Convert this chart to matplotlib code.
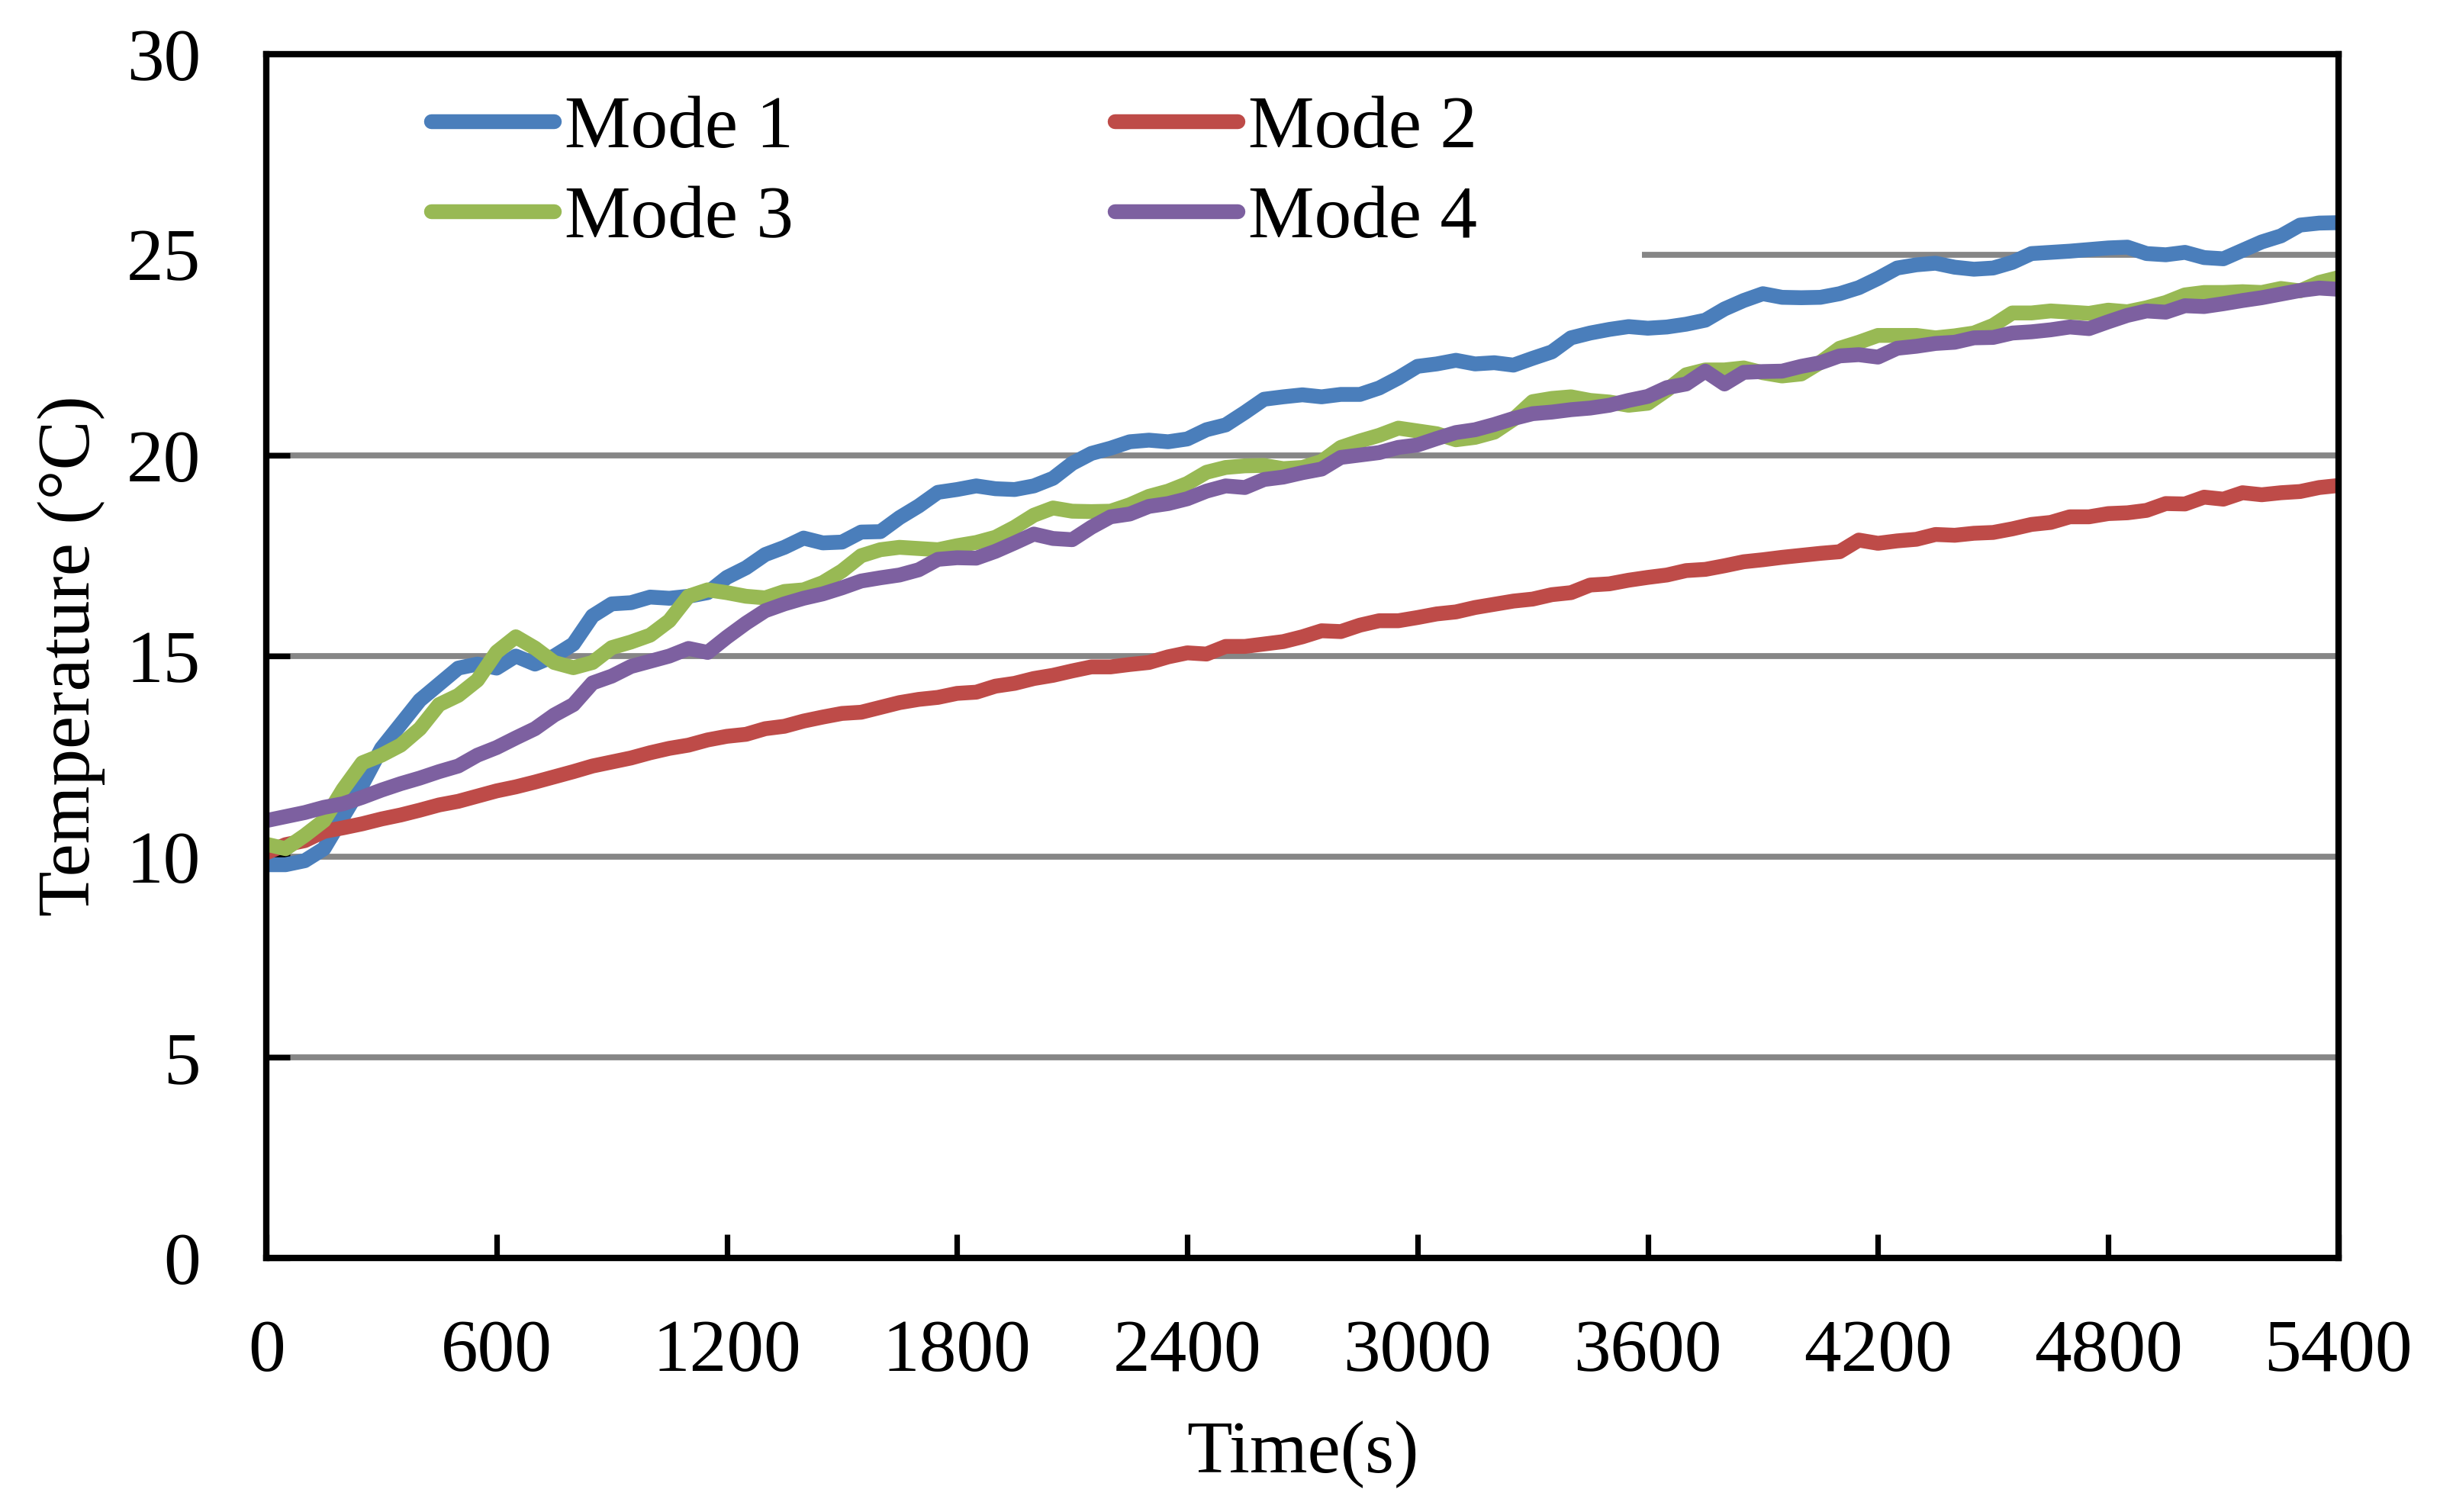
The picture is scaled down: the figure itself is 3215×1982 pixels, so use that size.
import numpy as np
import matplotlib

matplotlib.use("Agg")
import matplotlib.pyplot as plt
from matplotlib.patches import Rectangle

plt.rcParams["font.family"] = ["Liberation Serif", "DejaVu Serif"]

# time axis (s), one reading every 50 s
time_s = list(range(0, 5401, 50))

mode1 = [9.8, 9.8, 9.9, 10.2, 11.0, 11.8, 12.7, 13.3, 13.9, 14.3, 14.7, 14.8, 14.7, 15.0, 14.8, 15.0, 15.3, 16.0, 16.3,
         16.33, 16.47, 16.44, 16.49, 16.58, 16.96, 17.2, 17.53, 17.71, 17.94, 17.82, 17.84, 18.09, 18.1, 18.45, 18.74, 19.08, 19.15,
         19.24, 19.17, 19.15, 19.24, 19.43, 19.8, 20.05, 20.18, 20.34, 20.38, 20.34, 20.41, 20.64, 20.76, 21.07, 21.4, 21.46, 21.51,
         21.46, 21.52, 21.52, 21.68, 21.93, 22.22, 22.28, 22.37, 22.28, 22.31, 22.25, 22.42, 22.58, 22.93, 23.05, 23.14, 23.21, 23.17,
         23.2, 23.27, 23.37, 23.65, 23.86, 24.03, 23.94, 23.93, 23.94, 24.03, 24.18, 24.41, 24.67, 24.75, 24.79, 24.69, 24.64, 24.67,
         24.81, 25.03, 25.06, 25.09, 25.13, 25.17, 25.19, 25.03, 25.0, 25.06, 24.93, 24.9, 25.11, 25.32, 25.47, 25.74, 25.79, 25.8]

mode2 = [10.1, 10.3, 10.4, 10.63, 10.72, 10.82, 10.94, 11.04, 11.16, 11.29, 11.38, 11.51, 11.64, 11.74, 11.86, 11.99, 12.12, 12.26, 12.36,
         12.46, 12.59, 12.7, 12.78, 12.91, 13.0, 13.05, 13.19, 13.25, 13.38, 13.48, 13.57, 13.6, 13.72, 13.84, 13.92, 13.97, 14.07,
         14.1, 14.25, 14.32, 14.44, 14.52, 14.63, 14.73, 14.73, 14.79, 14.84, 14.98, 15.08, 15.05, 15.24, 15.24, 15.3, 15.36, 15.48,
         15.63, 15.61, 15.77, 15.88, 15.88, 15.96, 16.05, 16.1, 16.21, 16.29, 16.37, 16.42, 16.53, 16.58, 16.77, 16.8, 16.89, 16.96,
         17.02, 17.13, 17.16, 17.25, 17.35, 17.4, 17.46, 17.51, 17.56, 17.6, 17.89, 17.81, 17.87, 17.91, 18.03, 18.01, 18.06, 18.08,
         18.17, 18.28, 18.33, 18.47, 18.47, 18.55, 18.57, 18.63, 18.8, 18.79, 18.96, 18.91, 19.07, 19.02, 19.07, 19.1, 19.2, 19.25]

mode3 = [10.31, 10.2, 10.53, 10.9, 11.68, 12.34, 12.53, 12.78, 13.19, 13.79, 14.02, 14.4, 15.1, 15.48, 15.2, 14.84, 14.71, 14.84, 15.21,
         15.35, 15.52, 15.88, 16.49, 16.65, 16.58, 16.49, 16.45, 16.61, 16.65, 16.83, 17.12, 17.5, 17.65, 17.71, 17.68, 17.65, 17.75,
         17.83, 17.96, 18.21, 18.51, 18.69, 18.61, 18.6, 18.61, 18.77, 18.98, 19.11, 19.3, 19.58, 19.7, 19.74, 19.75, 19.67, 19.7,
         19.85, 20.2, 20.36, 20.5, 20.68, 20.61, 20.54, 20.39, 20.45, 20.58, 20.9, 21.34, 21.42, 21.46, 21.37, 21.33, 21.25, 21.3,
         21.63, 22.01, 22.13, 22.13, 22.18, 22.06, 21.98, 22.03, 22.32, 22.67, 22.82, 22.99, 22.99, 22.99, 22.93, 22.98, 23.05, 23.24,
         23.55, 23.55, 23.6, 23.57, 23.54, 23.62, 23.58, 23.68, 23.81, 24.0, 24.06, 24.06, 24.08, 24.06, 24.16, 24.1, 24.31, 24.43]

mode4 = [10.9, 11.0, 11.1, 11.23, 11.32, 11.48, 11.66, 11.82, 11.96, 12.12, 12.26, 12.53, 12.72, 12.96, 13.19, 13.53, 13.79, 14.33, 14.5,
         14.74, 14.87, 15.0, 15.19, 15.09, 15.47, 15.82, 16.13, 16.3, 16.44, 16.55, 16.7, 16.87, 16.95, 17.02, 17.15, 17.41, 17.45,
         17.44, 17.61, 17.82, 18.04, 17.93, 17.9, 18.21, 18.47, 18.54, 18.73, 18.8, 18.92, 19.11, 19.24, 19.2, 19.4, 19.46, 19.57,
         19.66, 19.95, 20.01, 20.07, 20.2, 20.26, 20.42, 20.57, 20.64, 20.77, 20.92, 21.04, 21.08, 21.14, 21.18, 21.25, 21.37, 21.47,
         21.69, 21.78, 22.1, 21.78, 22.07, 22.09, 22.1, 22.22, 22.31, 22.48, 22.51, 22.45, 22.67, 22.72, 22.79, 22.82, 22.93, 22.94,
         23.05, 23.08, 23.13, 23.2, 23.16, 23.33, 23.49, 23.6, 23.57, 23.73, 23.71, 23.78, 23.86, 23.93, 24.02, 24.11, 24.17, 24.14]

labels = ["Mode 1", "Mode 2", "Mode 3", "Mode 4"]
colors = ["#4A7EBB", "#BE4B48", "#98B954", "#7D60A0"]
x_ticks = list(range(0, 5401, 600))
y_ticks = list(range(0, 31, 5))


def main():
    fig = plt.figure(figsize=(16.075, 9.91), dpi=200)
    ax = fig.add_axes([0.1086, 0.168, 0.8447, 0.7962])

    lines = []
    for y, lab, c in zip([mode1, mode2, mode3, mode4], labels, colors):
        ln, = ax.plot(time_s, y, color=c, lw=7.0, label=lab, zorder=3,
                      solid_capstyle="round", solid_joinstyle="round")
        lines.append(ln)

    ax.set_xlim(0, 5400)
    ax.set_ylim(0, 30)
    ax.set_xticks(x_ticks)
    ax.set_yticks(y_ticks)

    # horizontal gridlines only
    ax.set_axisbelow(True)
    ax.yaxis.grid(True, color="#868686", lw=2.8)
    ax.xaxis.grid(False)

    for sp in ax.spines.values():
        sp.set_linewidth(3.0)
        sp.set_zorder(4)

    ax.tick_params(axis="both", direction="in", length=11, width=2.6, labelsize=35)
    ax.tick_params(axis="x", pad=29)
    ax.tick_params(axis="y", pad=31)

    ax.set_xlabel("Time(s)", fontsize=35, labelpad=16)
    ax.set_ylabel("Temperature (°C)", fontsize=35, labelpad=10)

    # white legend backdrop hides the grid behind it
    ax.add_patch(Rectangle((0, 0.826), 0.664, 0.174, transform=ax.transAxes,
                           facecolor="white", edgecolor="none", zorder=1))

    order = [0, 2, 1, 3]
    ax.legend([lines[i] for i in order], [labels[i] for i in order],
              ncol=2, loc="center", bbox_to_anchor=(0.332, 0.900),
              frameon=False, fontsize=35, handlelength=1.65,
              handletextpad=0.15, columnspacing=4.33, labelspacing=0.3,
              borderpad=0, borderaxespad=0)

    fig.savefig("out.png", dpi=200)
    plt.close(fig)


if __name__ == "__main__":
    main()
